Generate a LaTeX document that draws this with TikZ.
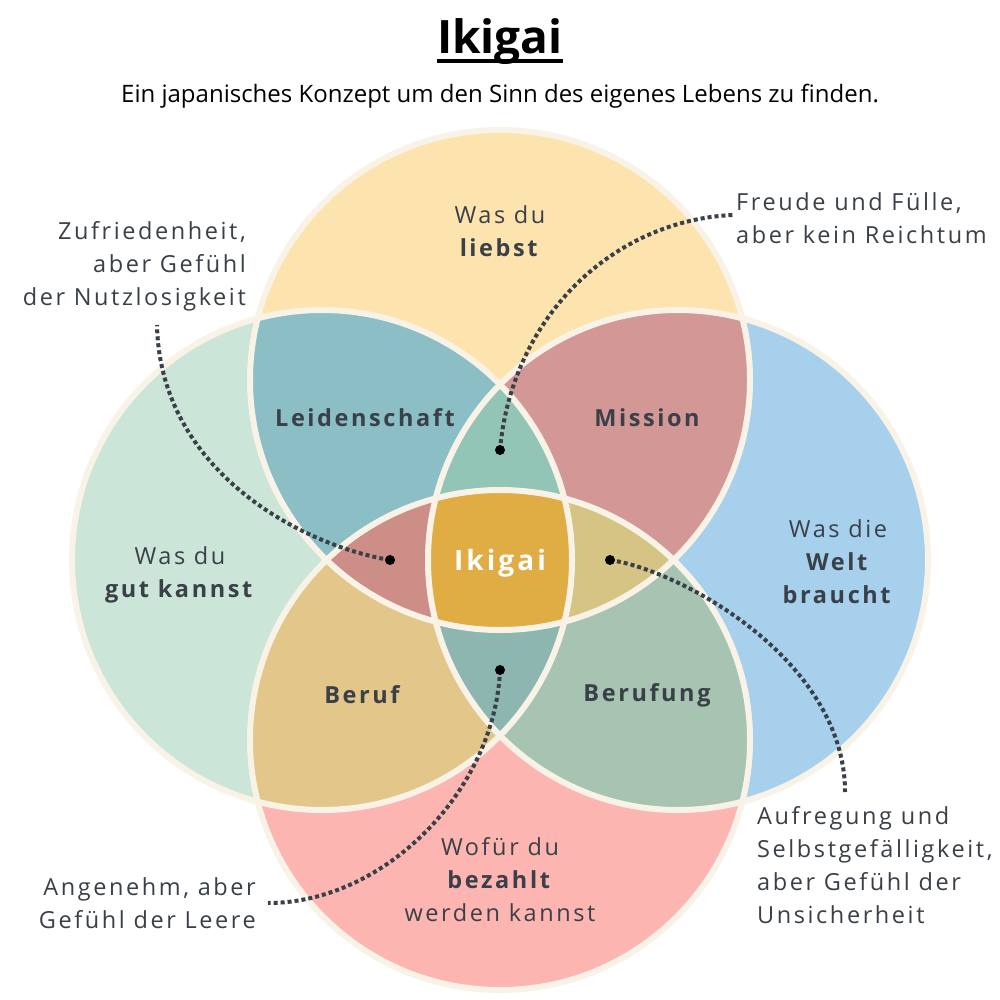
\documentclass[tikz,border=0pt]{standalone}
\usepackage{fontspec}
\setmainfont{Open Sans}
\newfontfamily\spacedfont[LetterSpace=11]{Open Sans}
\definecolor{cT}{HTML}{FDE3AE}
\definecolor{cL}{HTML}{CCE5D9}
\definecolor{cR}{HTML}{A6D0EC}
\definecolor{cB}{HTML}{FDB5B1}
\definecolor{cTL}{HTML}{8CBEC6}
\definecolor{cTR}{HTML}{D39896}
\definecolor{cLB}{HTML}{E3C689}
\definecolor{cRB}{HTML}{A7C3B1}
\definecolor{cTLR}{HTML}{92C5B6}
\definecolor{cTLB}{HTML}{CD8E88}
\definecolor{cTRB}{HTML}{D5C483}
\definecolor{cLRB}{HTML}{8DB6B1}
\definecolor{cAll}{HTML}{E0AC44}
\definecolor{cream}{HTML}{F8F3E6}
\definecolor{ink}{HTML}{3A4048}
\tikzset{
  ring/.style={draw=cream, line width=6pt},
  lbl/.style={inner sep=0pt, text=ink, font=\spacedfont\fontsize{23.5}{33}\selectfont},
  blbl/.style={inner sep=0pt, text=ink, font=\spacedfont\bfseries\fontsize{23.5}{33}\selectfont},
  conn/.style={draw=ink, line width=4pt, dash pattern=on 4pt off 3pt},
  spot/.style={fill=black},
}
\newcommand{\circT}{(500,380) circle[radius=250pt]}
\newcommand{\circL}{(322,560) circle[radius=250pt]}
\newcommand{\circR}{(678,560) circle[radius=250pt]}
\newcommand{\circB}{(500,740) circle[radius=250pt]}
\newcommand{\allfill}{(0,0) rectangle (1000,1000)}
\begin{document}
\begin{tikzpicture}[x=1pt,y=-1pt]
\useasboundingbox (0,0) rectangle (1000,1000);
\fill[white] (0,0) rectangle (1000,1000);
% base circles
\fill[cT] \circT;
\fill[cL] \circL;
\fill[cR] \circR;
\fill[cB] \circB;
% pairs
\begin{scope}\clip \circT; \clip \circL; \fill[cTL] \allfill; \end{scope}
\begin{scope}\clip \circT; \clip \circR; \fill[cTR] \allfill; \end{scope}
\begin{scope}\clip \circL; \clip \circB; \fill[cLB] \allfill; \end{scope}
\begin{scope}\clip \circR; \clip \circB; \fill[cRB] \allfill; \end{scope}
% triples
\begin{scope}\clip \circT; \clip \circL; \clip \circR; \fill[cTLR] \allfill; \end{scope}
\begin{scope}\clip \circT; \clip \circL; \clip \circB; \fill[cTLB] \allfill; \end{scope}
\begin{scope}\clip \circT; \clip \circR; \clip \circB; \fill[cTRB] \allfill; \end{scope}
\begin{scope}\clip \circL; \clip \circR; \clip \circB; \fill[cLRB] \allfill; \end{scope}
% all four
\begin{scope}\clip \circT; \clip \circL; \clip \circR; \clip \circB; \fill[cAll] \allfill; \end{scope}
% outlines
\draw[ring] \circT;
\draw[ring] \circL;
\draw[ring] \circR;
\draw[ring] \circB;

% title
\node[inner sep=0pt, font=\bfseries\fontsize{46}{50}\selectfont, text=black] (title) at (500,42) {Ikigai};
\draw[line width=4pt] ([yshift=-7pt]title.base west) -- ([yshift=-7pt]title.base east);
\node[inner sep=0pt, font=\fontsize{24}{28}\selectfont, text=black] (sub) at (500,96) {Ein japanisches Konzept um den Sinn des eigenes Lebens zu finden.};

% circle labels
\node[lbl, align=center] (love) at (500,231) {Was du\\\textbf{liebst}};
\node[lbl, align=center] (good) at (180,575) {Was du\\\textbf{gut kannst}};
\node[lbl, align=center] (world) at (838,562) {Was die\\\textbf{Welt}\\\textbf{braucht}};
\node[lbl, align=center] (paid) at (500,880) {Wofür du\\\textbf{bezahlt}\\werden kannst};

% overlap labels
\node[blbl] (leid) at (365,418) {Leidenschaft};
\node[blbl] (miss) at (647,418) {Mission};
\node[blbl] (beruf) at (362,695) {Beruf};
\node[blbl] (berufung) at (647,695) {Berufung};
\node[inner sep=0pt, text=white, font=\spacedfont\bfseries\fontsize{28}{30}\selectfont] (iki) at (500,563) {Ikigai};

% side notes
\node[lbl, align=right, anchor=east] (zuf) at (246,266) {Zufriedenheit,\\aber Gefühl\\der Nutzlosigkeit};
\node[lbl, align=left, anchor=west] (freu) at (736,218) {Freude und Fülle,\\aber kein Reichtum};
\node[lbl, align=left, anchor=west] (aufr) at (757,865) {Aufregung und\\Selbstgefälligkeit,\\aber Gefühl der\\Unsicherheit};
\node[lbl, align=right, anchor=east] (ange) at (256,903) {Angenehm, aber\\Gefühl der Leere};

% dots
\coordinate (dTop) at (500,450);
\coordinate (dLeft) at (390,560);
\coordinate (dRight) at (610,560);
\coordinate (dBot) at (500,670);
\coordinate (eTop) at (733,215);
\coordinate (eLeft) at (157,325);
\coordinate (eRight) at (845,792);
\coordinate (eBot) at (268,903);

\draw[conn] (dTop) .. controls (512,315) and (615,220) .. (eTop);
\draw[conn] (dLeft) .. controls (300,545) and (160,470) .. (eLeft);
\draw[conn] (dRight) .. controls (680,570) and (845,660) .. (eRight);
\draw[conn] (dBot) .. controls (495,790) and (385,903) .. (eBot);

\fill[spot] (dTop) circle[radius=5pt];
\fill[spot] (dLeft) circle[radius=5pt];
\fill[spot] (dRight) circle[radius=5pt];
\fill[spot] (dBot) circle[radius=5pt];
\end{tikzpicture}
\end{document}
